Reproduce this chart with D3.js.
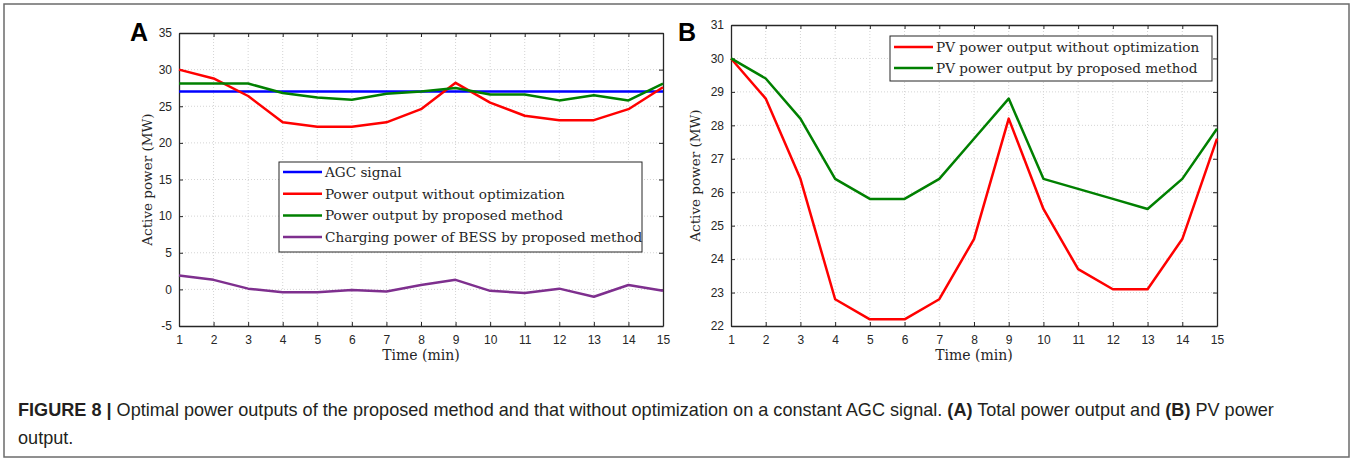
<!DOCTYPE html>
<html lang="en">
<head>
<meta charset="utf-8" />
<title>Figure 8</title>
<script src="https://d3js.org/d3.v7.min.js"></script>
<style>
  body { margin: 0; background: #fff; }
  svg { display: block; }
  .tick text { font-family: "Liberation Sans", Arial, sans-serif; font-size: 12px; fill: #262626; }
  .serif { font-family: "DejaVu Serif", serif; fill: #262626; }
</style>
</head>
<body>
<svg width="1352" height="459"></svg>
<script>
// time axis, minutes
var minutes = d3.range(1, 16);

// panel A series (MW)
var agcSignal = [27, 27, 27, 27, 27, 27, 27, 27, 27, 27, 27, 27, 27, 27, 27];
var outputNoOpt = [30, 28.8, 26.4, 22.8, 22.2, 22.2, 22.8, 24.6, 28.2, 25.5, 23.7, 23.1, 23.1, 24.6, 27.6];
var outputProposed = [28.1, 28.1, 28.1, 26.8, 26.2, 25.9, 26.7, 27.0, 27.5, 26.6, 26.6, 25.8, 26.5, 25.8, 28.1];
var bessCharging = [1.9, 1.3, 0.1, -0.4, -0.4, -0.1, -0.3, 0.6, 1.3, -0.2, -0.5, 0.1, -1.0, 0.6, -0.2];

// panel B series (MW)
var pvNoOpt = [30, 28.8, 26.4, 22.8, 22.2, 22.2, 22.8, 24.6, 28.2, 25.5, 23.7, 23.1, 23.1, 24.6, 27.6];
var pvProposed = [30, 29.4, 28.2, 26.4, 25.8, 25.8, 26.4, 27.6, 28.8, 26.4, 26.1, 25.8, 25.5, 26.4, 27.9];

var ticksA = d3.range(-5, 36, 5);
var ticksB = d3.range(22, 32, 1);

var svg = d3.select("svg");

// outer frame
svg.append("rect")
  .attr("x", 4).attr("y", 4).attr("width", 1345).attr("height", 453)
  .attr("fill", "none").attr("stroke", "#6b6b6b").attr("stroke-width", 1.5);

function panel(opt) {
  var x = d3.scaleLinear().domain([1, 15]).range([opt.left, opt.right]);
  var y = d3.scaleLinear().domain(opt.yDomain).range([opt.bottom, opt.top]);
  var g = svg.append("g");

  // dotted grid
  g.append("g").selectAll("line").data(minutes.slice(1, -1)).enter().append("line")
    .attr("x1", d => x(d)).attr("x2", d => x(d))
    .attr("y1", opt.top).attr("y2", opt.bottom)
    .attr("stroke", "#d4d4d4").attr("stroke-dasharray", "1,2");
  g.append("g").selectAll("line").data(opt.yTicks.slice(1, -1)).enter().append("line")
    .attr("x1", opt.left).attr("x2", opt.right)
    .attr("y1", d => y(d)).attr("y2", d => y(d))
    .attr("stroke", "#d4d4d4").attr("stroke-dasharray", "1,2");

  // axes, ticks pointing inward on all four sides
  var plain = d => String(d);
  var axB = g.append("g").attr("transform", "translate(0," + opt.bottom + ")")
    .call(d3.axisBottom(x).tickValues(minutes).tickSizeInner(-4).tickSizeOuter(0).tickPadding(9).tickFormat(plain));
  var axT = g.append("g").attr("transform", "translate(0," + opt.top + ")")
    .call(d3.axisTop(x).tickValues(minutes).tickSizeInner(-4).tickSizeOuter(0).tickFormat(""));
  var axL = g.append("g").attr("transform", "translate(" + opt.left + ",0)")
    .call(d3.axisLeft(y).tickValues(opt.yTicks).tickSizeInner(-4).tickSizeOuter(0).tickPadding(7).tickFormat(plain));
  var axR = g.append("g").attr("transform", "translate(" + opt.right + ",0)")
    .call(d3.axisRight(y).tickValues(opt.yTicks).tickSizeInner(-4).tickSizeOuter(0).tickFormat(""));
  [axB, axT, axL, axR].forEach(function (a) {
    a.selectAll("line").attr("stroke", "#262626");
    a.select(".domain").attr("stroke", "#262626").attr("stroke-width", 1.3);
  });

  // lines
  var line = d3.line().x((d, i) => x(minutes[i])).y(d => y(d));
  opt.series.forEach(function (s) {
    g.append("path").datum(s.values)
      .attr("fill", "none").attr("stroke", s.color).attr("stroke-width", 2.5)
      .attr("stroke-linejoin", "round").attr("d", line);
  });

  // legend
  var lg = opt.legend;
  var leg = g.append("g");
  leg.append("rect")
    .attr("x", lg.x).attr("y", lg.y).attr("width", lg.w).attr("height", lg.h)
    .attr("fill", "#fff").attr("stroke", "#262626").attr("stroke-width", 1);
  opt.series.forEach(function (s, i) {
    var yy = lg.y + lg.first + i * lg.step;
    leg.append("line")
      .attr("x1", lg.x + 4).attr("x2", lg.x + 43).attr("y1", yy).attr("y2", yy)
      .attr("stroke", s.color).attr("stroke-width", 2.5);
    leg.append("text").attr("class", "serif")
      .attr("x", lg.x + 46).attr("y", yy + 5)
      .attr("font-size", "13.6px").text(s.name);
  });

  // axis titles
  g.append("text").attr("class", "serif")
    .attr("x", (opt.left + opt.right) / 2).attr("y", 360)
    .attr("text-anchor", "middle").attr("font-size", "14px").text("Time (min)");
  g.append("text").attr("class", "serif")
    .attr("transform", "translate(" + opt.yTitleX + "," + (opt.top + opt.bottom) / 2 + ") rotate(-90)")
    .attr("text-anchor", "middle").attr("font-size", "13.5px").text("Active power (MW)");

  // panel letter
  g.append("text")
    .attr("x", opt.letterX).attr("y", 41)
    .attr("font-family", "Liberation Sans, Arial, sans-serif")
    .attr("font-weight", "bold").attr("font-size", "25px").attr("fill", "#000")
    .text(opt.letter);
}

panel({
  letter: "A", letterX: 130,
  left: 179, right: 663, top: 33, bottom: 326,
  yDomain: [-5, 35], yTicks: ticksA, yTitleX: 152,
  series: [
    { name: "AGC signal", values: agcSignal, color: "#0000ff" },
    { name: "Power output without optimization", values: outputNoOpt, color: "#ff0000" },
    { name: "Power output by proposed method", values: outputProposed, color: "#008000" },
    { name: "Charging power of BESS by proposed method", values: bessCharging, color: "#7e2f8e" }
  ],
  legend: { x: 279, y: 162, w: 363, h: 90, first: 10, step: 21.7 }
});

panel({
  letter: "B", letterX: 678,
  left: 731, right: 1217, top: 25, bottom: 326,
  yDomain: [22, 31], yTicks: ticksB, yTitleX: 700,
  series: [
    { name: "PV power output without optimization", values: pvNoOpt, color: "#ff0000" },
    { name: "PV power output by proposed method", values: pvProposed, color: "#008000" }
  ],
  legend: { x: 890, y: 36, w: 322, h: 45, first: 11, step: 21 }
});

// caption
var capFont = "Liberation Sans, Arial, sans-serif";
var cap = svg.append("text")
  .attr("x", 18).attr("y", 416)
  .attr("font-family", capFont)
  .attr("font-size", "18.1px").attr("fill", "#231f20");
cap.append("tspan").attr("font-weight", "bold").text("FIGURE 8 | ");
cap.append("tspan").text("Optimal power outputs of the proposed method and that without optimization on a constant AGC signal. ");
cap.append("tspan").attr("font-weight", "bold").text("(A)");
cap.append("tspan").text(" Total power output and ");
cap.append("tspan").attr("font-weight", "bold").text("(B)");
cap.append("tspan").text(" PV power");
svg.append("text")
  .attr("x", 18).attr("y", 444)
  .attr("font-family", capFont)
  .attr("font-size", "18.1px").attr("fill", "#231f20")
  .text("output.");
</script>
</body>
</html>
